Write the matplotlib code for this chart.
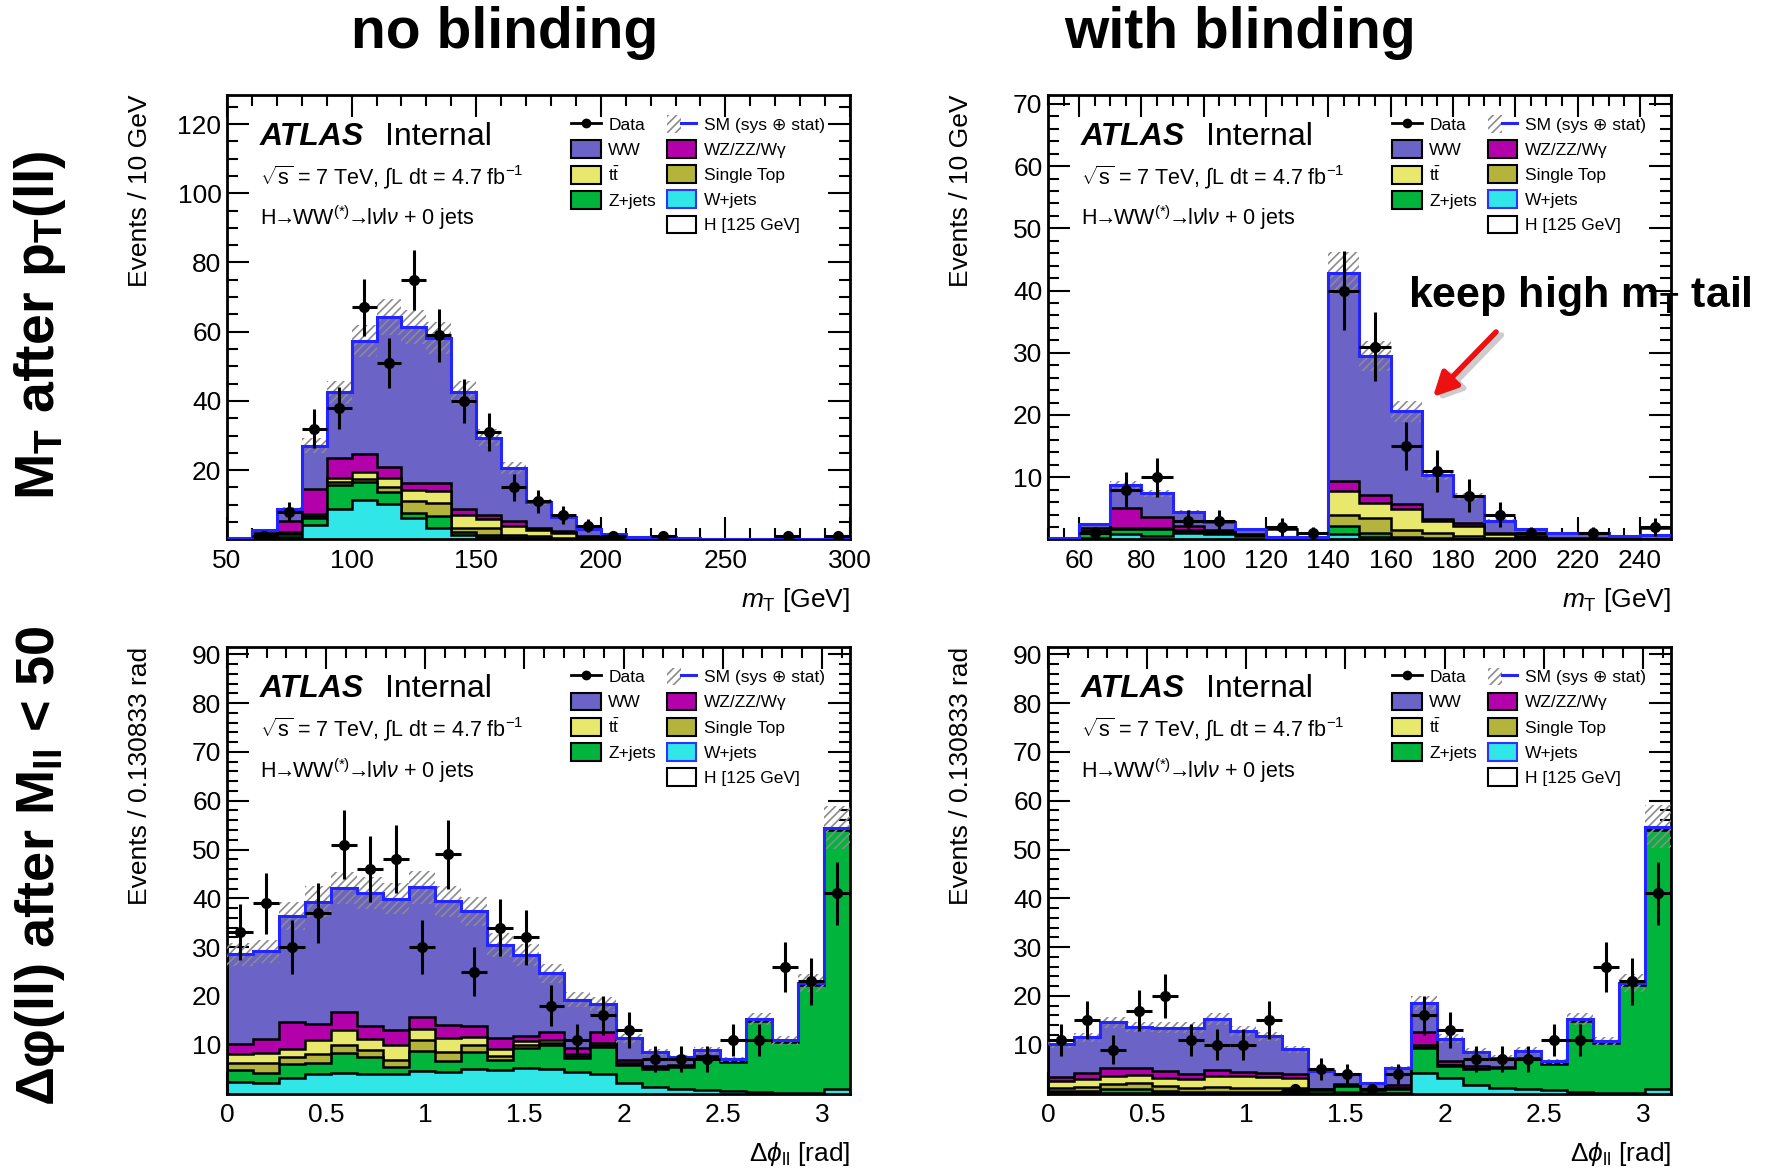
import numpy as np
import matplotlib
matplotlib.use("Agg")
import matplotlib.pyplot as plt
from matplotlib.patches import Patch
from matplotlib.lines import Line2D
from matplotlib.legend_handler import HandlerTuple
from matplotlib.ticker import MultipleLocator, FormatStrFormatter

plt.rcParams['font.family'] = ['Liberation Sans', 'DejaVu Sans']
plt.rcParams['mathtext.fontset'] = 'custom'
plt.rcParams['mathtext.rm'] = 'Liberation Sans'
plt.rcParams['mathtext.it'] = 'Liberation Sans:italic'
plt.rcParams['mathtext.bf'] = 'Liberation Sans:bold'
plt.rcParams['hatch.linewidth'] = 1.2

# ---- m_T after pT(ll), no blinding: 10 GeV bins from 50 to 300
mt_edges_a = np.arange(50, 301, 10)
tl_wj = [0.0, 0.3, 0.6, 4.2, 8.7, 11.5, 10.2, 6.2, 3.3, 1.2, 0.7, 0.3, 0.2, 0.1, 0.05, 0, 0, 0, 0, 0, 0, 0, 0, 0, 0]
tl_zj = [0.0, 0.7, 1.0, 2.0, 7.0, 5.0, 3.5, 1.3, 3.4, 0.9, 0.5, 0.3, 0.2, 0.1, 0.05, 0, 0, 0, 0, 0, 0, 0, 0, 0, 0]
tl_st = [0.0, 0.1, 0.2, 0.5, 1.0, 1.0, 1.5, 3.7, 3.8, 1.3, 2.2, 0.6, 0.5, 0.3, 0.1, 0, 0, 0, 0, 0, 0, 0, 0, 0, 0]
tl_tt = [0.0, 0.2, 0.2, 0.5, 1.0, 2.1, 2.5, 3.0, 3.4, 3.7, 2.6, 2.8, 1.8, 1.4, 0.4, 0.2, 0.1, 0.1, 0, 0, 0, 0, 0, 0, 0]
tl_wz = [0.05, 0.5, 3.3, 7.5, 5.9, 5.0, 3.1, 2.0, 2.3, 1.8, 1.1, 1.2, 0.6, 0.5, 0.3, 0.2, 0.1, 0.1, 0.1, 0.05, 0.05, 0.05, 0.05, 0.05, 0.05]
tl_ww = [0.25, 1.0, 3.4, 12.4, 18.9, 32.7, 43.5, 45.1, 41.9, 33.6, 22.3, 15.4, 7.6, 4.1, 2.1, 1.1, 0.6, 0.5, 0.4, 0.15, 0.15, 0.15, 0.15, 0.15, 0.15]
tl_h = [0] * 25
tl_data = [0, 1, 8, 32, 38, 67, 51, 75, 59, 40, 31, 15, 11, 7, 4, 1, 0, 1, 0, 0, 0, 0, 1, 0, 1]

# ---- m_T after pT(ll), with blinding: 10 GeV bins from 50 to 250
mt_edges_b = np.arange(50, 251, 10)
tr_wj = [0.05, 0.3, 0.9, 0.6, 1.1, 0.9, 0.5, 0.1, 0.05, 0.8, 0.4, 0.2, 0.1, 0.05, 0, 0, 0, 0, 0, 0]
tr_zj = [0.05, 0.9, 0.8, 1.0, 0.2, 0.2, 0.1, 0, 0, 1.3, 0.6, 0.2, 0.1, 0.05, 0, 0, 0, 0, 0, 0]
tr_st = [0, 0.1, 0.1, 0.1, 0.1, 0.1, 0.05, 0, 0, 1.9, 2.5, 1.1, 0.8, 0.5, 0.3, 0.1, 0, 0, 0, 0]
tr_tt = [0, 0.1, 0.1, 0.2, 0.1, 0.1, 0.05, 0, 0, 3.8, 2.4, 3.4, 1.9, 1.6, 0.5, 0.3, 0.1, 0.1, 0, 0]
tr_wz = [0.05, 0.4, 3.2, 1.7, 0.6, 0.2, 0.2, 0.1, 0.1, 1.6, 1.3, 0.8, 0.4, 0.4, 0.2, 0.2, 0.1, 0.1, 0.1, 0.1]
tr_ww = [0.15, 0.7, 3.6, 3.8, 2.3, 1.3, 0.8, 0.2, 0.2, 33.4, 22.3, 14.9, 7.1, 4.3, 2.0, 1.0, 0.8, 0.8, 0.5, 0.6]
tr_h = [0, 0, 0, 0, 0, 0, 0, 1.3, 0, 0, 0, 0, 0, 0, 0, 0, 0, 0, 0, 1.2]
tr_data = [0, 1, 8, 10, 3, 3, 0, 2, 1, 40, 31, 15, 11, 7, 4, 1, 0, 1, 0, 2]

# ---- dphi(ll) after M_ll < 50: 24 bins from 0 to pi
dphi_edges = np.linspace(0, np.pi, 25)
bl_wj = [2.4, 2.1, 3.1, 4.0, 4.1, 4.0, 4.0, 4.7, 4.4, 5.1, 4.8, 5.2, 5.1, 4.5, 4.0, 2.2, 1.4, 0.9, 0.7, 0.5, 0.3, 0.2, 0.2, 0.9]
bl_zj = [2.5, 2.2, 2.9, 2.2, 4.2, 3.5, 1.5, 4.1, 2.3, 3.4, 2.0, 4.2, 4.8, 2.7, 5.6, 3.6, 3.7, 4.5, 6.6, 5.9, 14.5, 10.3, 22.0, 53.0]
bl_st = [1.4, 1.9, 1.4, 1.8, 1.7, 1.5, 1.3, 2.1, 1.8, 1.4, 0.9, 0.5, 0.4, 0.5, 0.3, 0.2, 0.1, 0.1, 0.05, 0, 0, 0, 0, 0]
bl_tt = [1.8, 2.0, 1.8, 2.9, 3.0, 2.1, 3.1, 2.4, 2.8, 1.6, 1.5, 0.8, 0.6, 0.4, 0.4, 0.2, 0.1, 0.1, 0.05, 0, 0, 0, 0, 0]
bl_wz = [2.0, 2.9, 5.5, 3.4, 3.7, 2.7, 3.1, 2.3, 2.7, 2.3, 2.1, 1.0, 1.7, 1.3, 2.3, 0.6, 0.3, 0.2, 0.2, 0.1, 0.1, 0.1, 0.1, 0.1]
bl_ww = [18.4, 18.0, 21.7, 25.0, 25.4, 27.3, 26.9, 26.7, 25.4, 23.5, 19.1, 16.7, 12.0, 9.8, 5.8, 4.5, 2.9, 1.6, 1.3, 0.5, 0.3, 0.3, 0.4, 0.5]
bl_h = [0] * 24
bl_data = [33, 39, 30, 37, 51, 46, 48, 30, 49, 25, 34, 32, 18, 11, 16, 13, 7, 7, 7, 11, 11, 26, 23, 41]

br_wj = [0.4, 0.3, 0.2, 0.2, 0.2, 0.2, 0.2, 0.2, 0.2, 0.2, 0.2, 0.3, 0.2, 0.2, 4.1, 3.1, 1.8, 1.1, 1.0, 0.8, 0.3, 0.2, 0.2, 0.9]
br_zj = [0.2, 0.2, 0.8, 0.8, 0.4, 0.2, 0.2, 0.2, 0.2, 0.4, 0.5, 1.2, 0.5, 0.8, 5.3, 2.6, 3.2, 4.1, 6.0, 5.3, 14.5, 10.2, 22.0, 53.2]
br_st = [0.6, 0.9, 0.9, 1.2, 1.0, 0.8, 1.0, 0.8, 0.7, 0.5, 0.1, 0.1, 0, 0.1, 0.2, 0.1, 0.05, 0, 0, 0, 0, 0, 0, 0]
br_tt = [1.4, 1.6, 1.6, 1.6, 1.6, 1.7, 2.2, 2.3, 2.2, 2.0, 0.1, 0.1, 0, 0.1, 0.3, 0.1, 0.05, 0, 0, 0, 0, 0, 0, 0]
br_wz = [0.7, 1.3, 1.8, 1.4, 1.5, 1.1, 1.3, 1.0, 0.8, 0.9, 0.1, 0.2, 0.2, 0.6, 2.7, 0.8, 0.6, 0.2, 0.2, 0.1, 0.1, 0.1, 0.1, 0.1]
br_ww = [6.8, 7.2, 9.3, 8.4, 8.8, 9.5, 10.4, 8.4, 7.6, 5.1, 3.6, 2.0, 1.3, 3.5, 5.9, 4.5, 2.9, 1.9, 1.6, 0.4, 0.3, 0.3, 0.4, 0.5]
br_h = [0] * 24
br_data = [11, 15, 9, 17, 20, 11, 10, 10, 15, 1, 5, 4, 1, 4, 16, 13, 7, 7, 7, 11, 11, 26, 23, 41]

sm_rel_unc = 0.08   # relative size of the hatched SM band

# colours, stack order bottom -> top
c_wj, c_zj, c_st, c_tt, c_wz, c_ww = '#30e6e6', '#00b43c', '#b4b43c', '#e8e86c', '#b400aa', '#6b63c6'
stack_colors = [c_wj, c_zj, c_st, c_tt, c_wz, c_ww, 'white']

W, H = 1788, 1172
fig = plt.figure(figsize=(W / 100, H / 100), dpi=100)


def frame(ax, xlim, ylim, xmaj, xmin, ymaj, ymin, yticks):
    ax.set_xlim(*xlim)
    ax.set_ylim(*ylim)
    ax.xaxis.set_major_locator(MultipleLocator(xmaj))
    ax.xaxis.set_minor_locator(MultipleLocator(xmin))
    ax.xaxis.set_major_formatter(FormatStrFormatter('%g'))
    ax.set_yticks(yticks)
    ax.yaxis.set_minor_locator(MultipleLocator(ymin))
    ax.tick_params(which='both', direction='in', top=True, right=True, width=1.5, labelsize=19)
    ax.tick_params(which='major', length=16)
    ax.tick_params(which='minor', length=8)
    ax.tick_params(axis='x', pad=7)
    ax.tick_params(axis='y', pad=4)
    for s in ax.spines.values():
        s.set_linewidth(2)


def panel(ax, edges, comps, data):
    comps = [np.asarray(c, float) for c in comps]
    cum = np.cumsum(comps, axis=0)
    sm = cum[-2]
    # cumulative histograms drawn from the top down, like a ROOT THStack
    for i in range(len(comps) - 1, -1, -1):
        ax.stairs(cum[i], edges, baseline=0, fill=True, facecolor=stack_colors[i],
                  edgecolor='black', linewidth=1.8, zorder=2)
    ax.stairs(sm * (1 + sm_rel_unc), edges, baseline=sm * (1 - sm_rel_unc), fill=True,
              facecolor='none', edgecolor='#8c8c8c', hatch='////', linewidth=0, zorder=3)
    ax.stairs(sm, edges, baseline=None, color='#2424ff', linewidth=2.2, zorder=4)
    d = np.asarray(data, float)
    ctr = 0.5 * (edges[1:] + edges[:-1])
    hw = 0.5 * np.diff(edges)
    m = d > 0
    ax.errorbar(ctr[m], d[m], yerr=np.sqrt(d[m]), xerr=hw[m], fmt='o', color='black',
                ms=7, elinewidth=2.2, capsize=0, zorder=5)


def decorate(ax):
    ax.text(0.053, 0.905, 'ATLAS', transform=ax.transAxes, fontsize=23, fontweight='bold',
            fontstyle='italic', va='center')
    ax.text(0.254, 0.905, 'Internal', transform=ax.transAxes, fontsize=23, va='center')
    ax.text(0.053, 0.815, r'$\sqrt{\mathrm{s}}$ = 7 TeV, $\int$L dt = 4.7 fb$^{-1}$', transform=ax.transAxes,
            fontsize=15.5, va='center')
    ax.text(0.053, 0.724, r'H$\!\!\rightarrow\!\!$WW$^{(*)}\!\!\rightarrow\!\!$l$\nu$l$\nu$ + 0 jets',
            transform=ax.transAxes, fontsize=15.5, va='center')
    blank = Line2D([], [], alpha=0)
    sm_h = (Patch(facecolor='none', edgecolor='#8c8c8c', hatch='////', linewidth=0),
            Line2D([], [], color='#2424ff', lw=2.2))
    handles = [Line2D([], [], color='black', marker='o', ms=6, lw=2),
               Patch(facecolor=c_ww, edgecolor='black', lw=1.5),
               Patch(facecolor=c_tt, edgecolor='black', lw=1.5),
               Patch(facecolor=c_zj, edgecolor='black', lw=1.5),
               blank, sm_h,
               Patch(facecolor=c_wz, edgecolor='black', lw=1.5),
               Patch(facecolor=c_st, edgecolor='black', lw=1.5),
               Patch(facecolor=c_wj, edgecolor='#3030ff', lw=1.5),
               Patch(facecolor='white', edgecolor='black', lw=1.5)]
    labels = ['Data', 'WW', r't$\bar{\mathrm{t}}$', 'Z+jets', '',
              'SM (sys ⊕ stat)', 'WZ/ZZ/Wγ', 'Single Top', 'W+jets', 'H [125 GeV]']
    ax.legend(handles, labels, ncol=2, loc='upper left', bbox_to_anchor=(0.53, 0.985),
              frameon=False, fontsize=12.5, handlelength=1.7, handleheight=1.2,
              labelspacing=0.42, columnspacing=0.6, handletextpad=0.45, borderpad=0.3,
              handler_map={tuple: HandlerTuple(ndivide=None, pad=0)})


xw, hw_top, hw_bot = 623 / W, 444.8 / H, 446.5 / H
ax_tl = fig.add_axes([227 / W, 1 - 539.4 / H, xw, hw_top])
ax_tr = fig.add_axes([1048 / W, 1 - 539.4 / H, xw, hw_top])
ax_bl = fig.add_axes([227 / W, 1 - 1093.5 / H, xw, hw_bot])
ax_br = fig.add_axes([1048 / W, 1 - 1093.5 / H, xw, hw_bot])

panel(ax_tl, mt_edges_a, [tl_wj, tl_zj, tl_st, tl_tt, tl_wz, tl_ww, tl_h], tl_data)
panel(ax_tr, mt_edges_b, [tr_wj, tr_zj, tr_st, tr_tt, tr_wz, tr_ww, tr_h], tr_data)
panel(ax_bl, dphi_edges, [bl_wj, bl_zj, bl_st, bl_tt, bl_wz, bl_ww, bl_h], bl_data)
panel(ax_br, dphi_edges, [br_wj, br_zj, br_st, br_tt, br_wz, br_ww, br_h], br_data)

frame(ax_tl, (50, 300), (0, 128.5), 50, 10, 20, 5, np.arange(20, 121, 20))
frame(ax_tr, (50, 250), (0, 71.5), 20, 5, 10, 2, np.arange(10, 71, 10))
ax_tr.set_xticks(np.arange(60, 241, 20))
for ax in (ax_bl, ax_br):
    frame(ax, (0, np.pi), (0, 91.5), 0.5, 0.1, 10, 2, np.arange(10, 91, 10))

for ax in (ax_tl, ax_tr):
    ax.set_ylabel('Events / 10 GeV', fontsize=19, loc='top')
    ax.set_xlabel(r'$m_{\mathrm{T}}$ [GeV]', fontsize=19, loc='right')
for ax in (ax_bl, ax_br):
    ax.set_ylabel('Events / 0.130833 rad', fontsize=19, loc='top')
    ax.set_xlabel(r'$\Delta\phi_{\mathrm{ll}}$ [rad]', fontsize=19, loc='right')
for ax in (ax_tl, ax_tr, ax_bl, ax_br):
    ax.yaxis.set_label_coords(-0.12, 1.0)
    ax.xaxis.set_label_coords(1.0, -0.105)
    decorate(ax)

# column and row headers
fig.text(505 / W, 1 - 33 / H, 'no blinding', fontsize=41, fontweight='bold', ha='center', va='center')
fig.text(1240 / W, 1 - 33 / H, 'with blinding', fontsize=41, fontweight='bold', ha='center', va='center')
fig.text(40 / W, 1 - 325 / H, r'M$_{\mathbf{T}}$ after p$_{\mathbf{T}}$(ll)', rotation=90,
         fontsize=40, fontweight='bold', ha='center', va='center')
fig.text(40 / W, 1 - 866 / H, r'Δφ(ll) after M$_{\mathbf{ll}}$ < 50', rotation=90,
         fontsize=39, fontweight='bold', ha='center', va='center')

# annotation on the blinded m_T plot
fig.text(1408 / W, 1 - 296 / H, r'keep high m$_{\mathbf{T}}$ tail', fontsize=31, fontweight='bold',
         ha='left', va='center')
ax_tr.annotate('', xy=(1431 / W + 0.003, 1 - 402 / H), xytext=(1498 / W + 0.003, 1 - 333 / H),
               xycoords='figure fraction', textcoords='figure fraction',
               arrowprops=dict(arrowstyle='-|>', color='#cccccc', lw=4, mutation_scale=36), zorder=6)
ax_tr.annotate('', xy=(1431 / W, 1 - 399 / H), xytext=(1498 / W, 1 - 330 / H),
               xycoords='figure fraction', textcoords='figure fraction',
               arrowprops=dict(arrowstyle='-|>', color='#ee1111', lw=4, mutation_scale=36), zorder=7)

fig.savefig('out.png', dpi=100)
